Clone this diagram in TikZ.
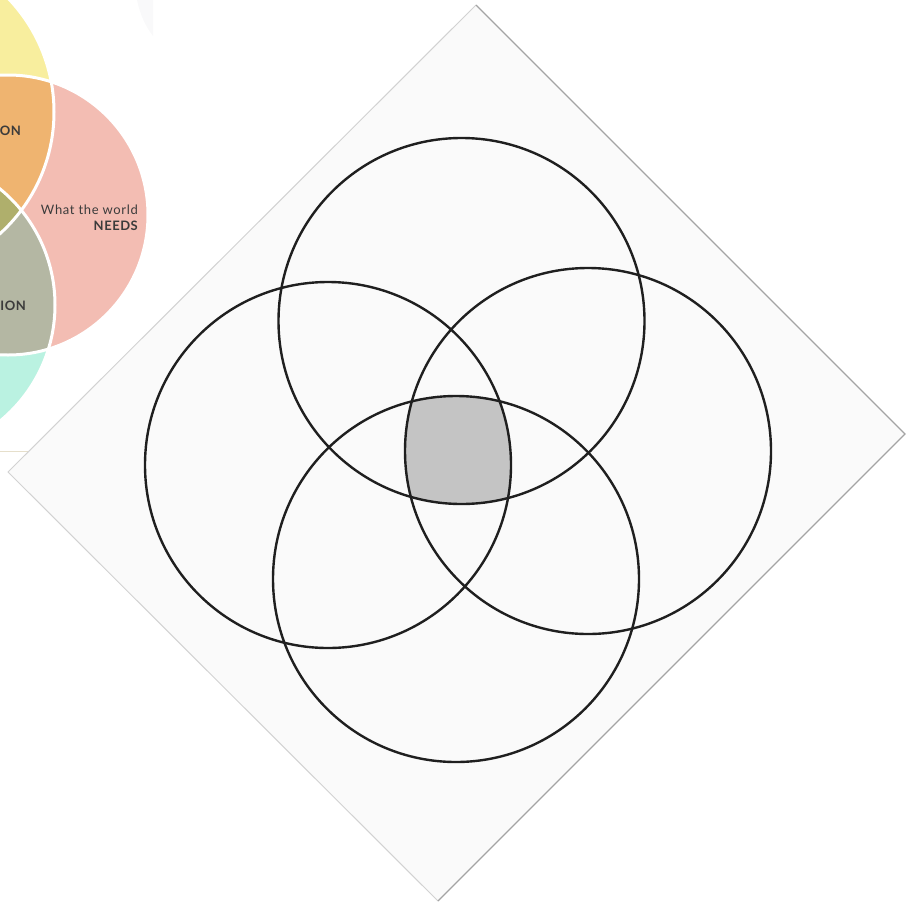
\documentclass[tikz,border=0pt]{standalone}
\usepackage{fontspec}
\setmainfont{Lato}
\usetikzlibrary{positioning}
\definecolor{sheet}{HTML}{FAFAFA}
\definecolor{edge}{HTML}{A4A4A4}
\definecolor{edgelight}{HTML}{D2D2D2}
\definecolor{ink}{HTML}{1F1F1F}
\definecolor{core}{HTML}{C4C4C4}
\definecolor{love}{HTML}{F8EE9E}
\definecolor{mission}{HTML}{EFB470}
\definecolor{needs}{HTML}{F3BDB3}
\definecolor{vocation}{HTML}{B4B7A3}
\definecolor{paid}{HTML}{BAF2E1}
\definecolor{olive}{HTML}{AFAF6C}
\definecolor{label}{HTML}{3B3B3B}
\definecolor{ghost}{HTML}{F9F9FA}
\definecolor{seam}{HTML}{E6DFCB}
\tikzset{
  ring/.style={draw=ink, line width=2.4pt},
  petal/.style={draw=white, line width=3pt},
  tag/.style={font=\fontsize{13}{15}\selectfont\addfontfeature{LetterSpace=5}, text=label, inner sep=0pt},
  btag/.style={tag, font=\fontsize{13}{15}\selectfont\bfseries\addfontfeature{LetterSpace=4}},
}

\begin{document}
\begin{tikzpicture}[x=1pt,y=-1pt]
    \useasboundingbox (0,0) rectangle (907,902);
    % scrap of the coloured chart at the left
    \coordinate (lovec) at (-110,112);
    \coordinate (needc) at (8,215);
    \coordinate (paidc) at (-95,305);
    \fill[ghost] (137,0) .. controls (140,15) and (146,27) .. (153,36) -- (153,0) -- cycle;
    \draw[seam, line width=1pt] (0,451) -- (153,451);
    \fill[love] (lovec) circle (164pt);
    \fill[paid] (paidc) circle (150pt);
    \fill[needs] (needc) circle (140pt);
    \begin{scope}
      \clip (lovec) circle (164pt);
      \fill[mission] (needc) circle (140pt);
    \end{scope}
    \begin{scope}
      \clip (paidc) circle (150pt);
      \fill[vocation] (needc) circle (140pt);
    \end{scope}
    \begin{scope}
      \clip (lovec) circle (164pt);
      \fill[olive] (paidc) circle (150pt);
    \end{scope}
    \draw[petal] (lovec) circle (164pt);
    \draw[petal] (paidc) circle (150pt);
    \draw[petal] (needc) circle (140pt);
    \node[btag, anchor=base east] (mis) at (21,135) {ON};
    \node[tag, anchor=base east] (wtw) at (138,214.5) {What the world};
    \node[btag, anchor=base east] (nds) at (138,230) {NEEDS};
    \node[btag, anchor=base east] (voc) at (26,310) {ION};
    % the blank sheet, turned
    \coordinate (n) at (476,5);
    \coordinate (e) at (905,434);
    \coordinate (s) at (438,901);
    \coordinate (w) at (8,472);
    \fill[sheet] (n) -- (e) -- (s) -- (w) -- cycle;
    \draw[edgelight, line width=1pt] (s) -- (w) -- (n);
    \draw[edge, line width=1.2pt] (n) -- (e) -- (s);
    % four rings
    \coordinate (top) at (461.5,321);
    \coordinate (left) at (328,465);
    \coordinate (right) at (588,451);
    \coordinate (bottom) at (456,579);
    \begin{scope}
      \clip (top) circle (183pt);
      \clip (left) circle (183pt);
      \clip (right) circle (183pt);
      \fill[core] (bottom) circle (183pt);
    \end{scope}
    \foreach \c in {top,left,right,bottom}
      \draw[ring] (\c) circle (183pt);
  \end{tikzpicture}
\end{document}
